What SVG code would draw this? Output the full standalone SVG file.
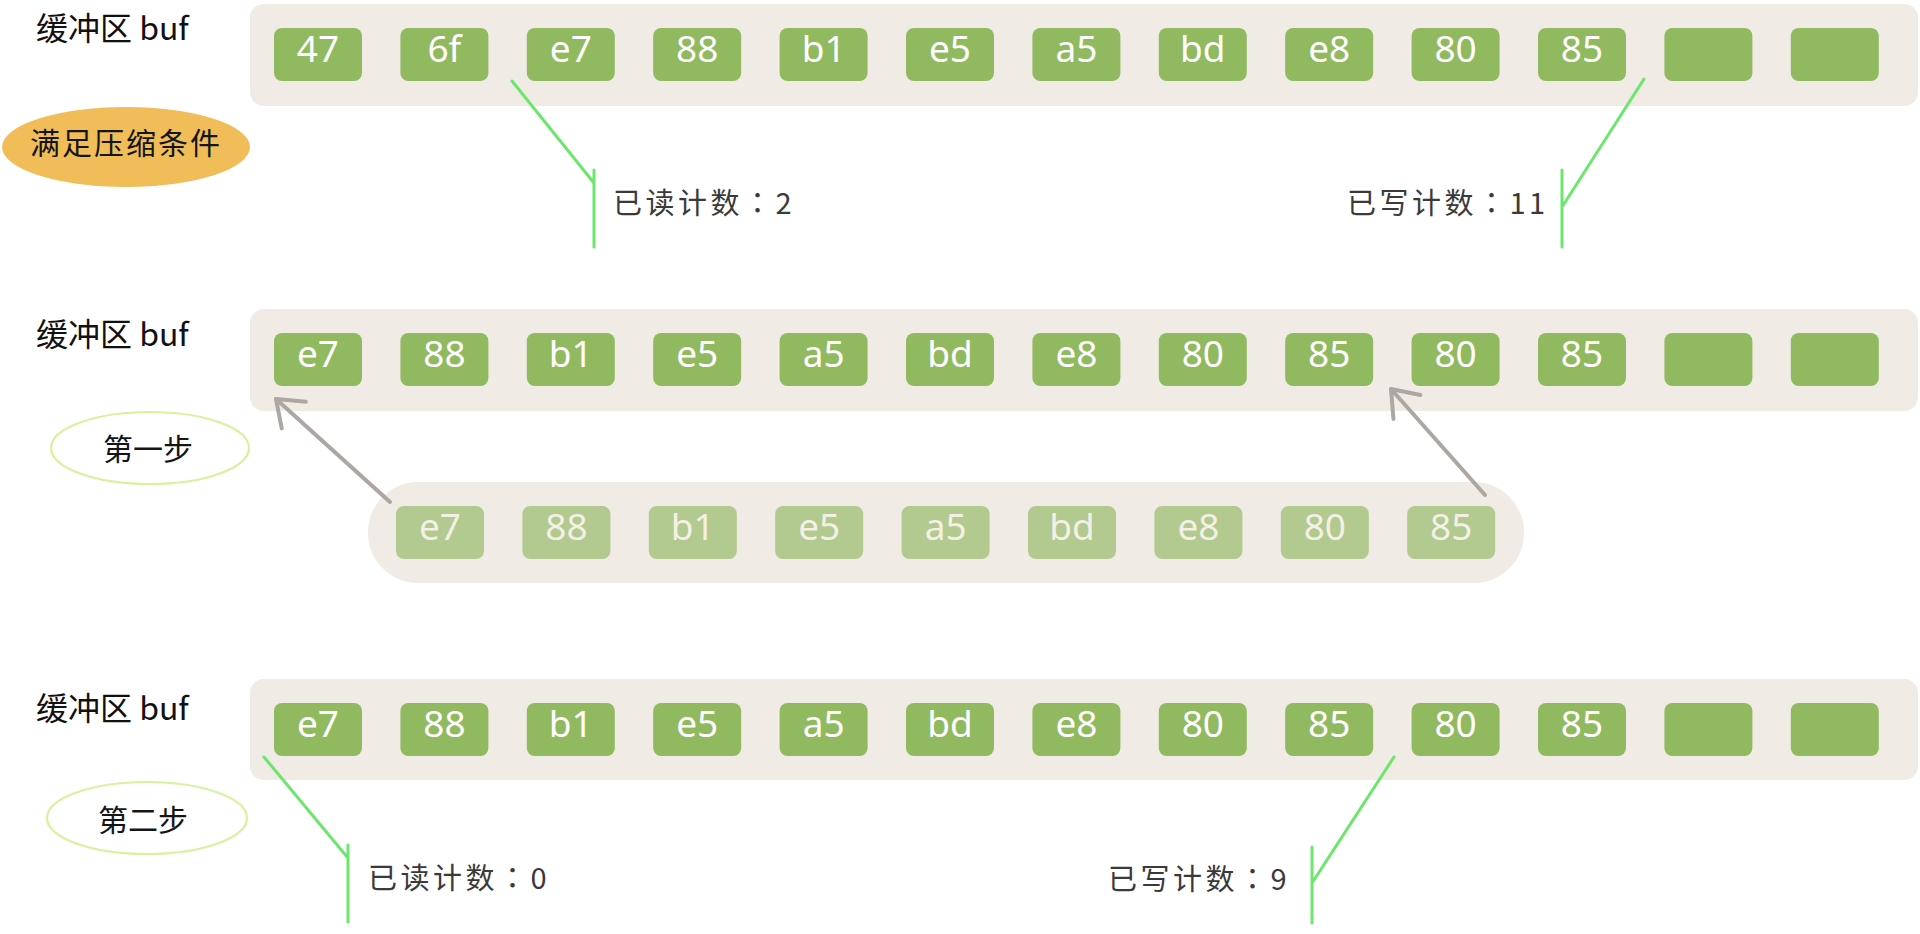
<svg xmlns="http://www.w3.org/2000/svg" width="1920" height="934" viewBox="0 0 1920 934">
<style>
.bar{fill:#f0ebe5}
.cell{fill:#91b960}
.fcell{fill:#b2c98f}
.ct{font-family:"Noto Sans","Liberation Sans",sans-serif;font-size:37px;fill:#ffffff;text-anchor:middle}
.fct{font-family:"Noto Sans","Liberation Sans",sans-serif;font-size:37px;fill:#f4f0e6;text-anchor:middle}
.title{font-family:"Noto Sans CJK SC","Noto Sans",sans-serif;font-size:32px;fill:#111111}
.lbl{font-family:"Noto Sans CJK TC","Noto Sans CJK SC",sans-serif;font-size:29px;letter-spacing:3.5px;fill:#3a3a3a}
.step{font-family:"Noto Sans CJK SC","Noto Sans",sans-serif;font-size:30px;fill:#151515;text-anchor:middle}
.ptr{fill:none;stroke:#6ce66c;stroke-width:3;stroke-linecap:round}
.arrow{fill:none;stroke:#aca7a2;stroke-width:4;stroke-linecap:round;stroke-linejoin:round}
.stepring{fill:none;stroke:#d6f29c;stroke-width:2.2}
</style>
<defs>
<marker id="ah" markerUnits="userSpaceOnUse" viewBox="-30 -24 36 48" markerWidth="36" markerHeight="48" refX="0" refY="0" orient="auto" overflow="visible">
<path d="M-24,-18 L0,0 L-24,18" fill="none" stroke="#aca7a2" stroke-width="4" stroke-linecap="round" stroke-linejoin="round"/>
</marker>
</defs>
<rect width="1920" height="934" fill="#ffffff"/>

<!-- Row 1 -->
<g id="row1-title"><text class="title" x="36" y="40">缓冲区 buf</text></g>
<g id="row1-buf">
<rect class="bar" x="250" y="4" width="1668" height="102" rx="14"/>
<g id="r1c0"><rect class="cell" x="274" y="28" width="88" height="53" rx="8"/><text class="ct" x="318" y="62">47</text></g>
<g id="r1c1"><rect class="cell" x="400.4" y="28" width="88" height="53" rx="8"/><text class="ct" x="444.4" y="62">6f</text></g>
<g id="r1c2"><rect class="cell" x="526.8" y="28" width="88" height="53" rx="8"/><text class="ct" x="570.8" y="62">e7</text></g>
<g id="r1c3"><rect class="cell" x="653.2" y="28" width="88" height="53" rx="8"/><text class="ct" x="697.2" y="62">88</text></g>
<g id="r1c4"><rect class="cell" x="779.6" y="28" width="88" height="53" rx="8"/><text class="ct" x="823.6" y="62">b1</text></g>
<g id="r1c5"><rect class="cell" x="906" y="28" width="88" height="53" rx="8"/><text class="ct" x="950" y="62">e5</text></g>
<g id="r1c6"><rect class="cell" x="1032.4" y="28" width="88" height="53" rx="8"/><text class="ct" x="1076.4" y="62">a5</text></g>
<g id="r1c7"><rect class="cell" x="1158.8" y="28" width="88" height="53" rx="8"/><text class="ct" x="1202.8" y="62">bd</text></g>
<g id="r1c8"><rect class="cell" x="1285.2" y="28" width="88" height="53" rx="8"/><text class="ct" x="1329.2" y="62">e8</text></g>
<g id="r1c9"><rect class="cell" x="1411.6" y="28" width="88" height="53" rx="8"/><text class="ct" x="1455.6" y="62">80</text></g>
<g id="r1c10"><rect class="cell" x="1538" y="28" width="88" height="53" rx="8"/><text class="ct" x="1582" y="62">85</text></g>
<g id="r1c11"><rect class="cell" x="1664.4" y="28" width="88" height="53" rx="8"/></g>
<g id="r1c12"><rect class="cell" x="1790.8" y="28" width="88" height="53" rx="8"/></g>
</g>
<g id="cond"><ellipse cx="126" cy="147" rx="124" ry="40" fill="#f0bd58"/><text class="step" x="126" y="154" font-size="31" fill="#333333" letter-spacing="2">满足压缩条件</text></g>
<g id="r1-read"><text class="lbl" x="613" y="214">已读计数：2</text></g>
<g id="r1-write"><text class="lbl" x="1347" y="214">已写计数：11</text></g>

<!-- Row 2 -->
<g id="row2-title"><text class="title" x="36" y="346">缓冲区 buf</text></g>
<g id="row2-buf">
<rect class="bar" x="250" y="309" width="1668" height="102" rx="14"/>
<g id="r2c0"><rect class="cell" x="274" y="333" width="88" height="53" rx="8"/><text class="ct" x="318" y="367">e7</text></g>
<g id="r2c1"><rect class="cell" x="400.4" y="333" width="88" height="53" rx="8"/><text class="ct" x="444.4" y="367">88</text></g>
<g id="r2c2"><rect class="cell" x="526.8" y="333" width="88" height="53" rx="8"/><text class="ct" x="570.8" y="367">b1</text></g>
<g id="r2c3"><rect class="cell" x="653.2" y="333" width="88" height="53" rx="8"/><text class="ct" x="697.2" y="367">e5</text></g>
<g id="r2c4"><rect class="cell" x="779.6" y="333" width="88" height="53" rx="8"/><text class="ct" x="823.6" y="367">a5</text></g>
<g id="r2c5"><rect class="cell" x="906" y="333" width="88" height="53" rx="8"/><text class="ct" x="950" y="367">bd</text></g>
<g id="r2c6"><rect class="cell" x="1032.4" y="333" width="88" height="53" rx="8"/><text class="ct" x="1076.4" y="367">e8</text></g>
<g id="r2c7"><rect class="cell" x="1158.8" y="333" width="88" height="53" rx="8"/><text class="ct" x="1202.8" y="367">80</text></g>
<g id="r2c8"><rect class="cell" x="1285.2" y="333" width="88" height="53" rx="8"/><text class="ct" x="1329.2" y="367">85</text></g>
<g id="r2c9"><rect class="cell" x="1411.6" y="333" width="88" height="53" rx="8"/><text class="ct" x="1455.6" y="367">80</text></g>
<g id="r2c10"><rect class="cell" x="1538" y="333" width="88" height="53" rx="8"/><text class="ct" x="1582" y="367">85</text></g>
<g id="r2c11"><rect class="cell" x="1664.4" y="333" width="88" height="53" rx="8"/></g>
<g id="r2c12"><rect class="cell" x="1790.8" y="333" width="88" height="53" rx="8"/></g>
</g>
<g id="step1"><ellipse class="stepring" cx="150" cy="448" rx="99" ry="36"/><text class="step" x="148" y="460">第一步</text></g>

<g id="moved">
<rect class="bar" x="368" y="482" width="1156" height="101" rx="50"/>
<g id="m0"><rect class="fcell" x="396" y="506" width="88" height="53" rx="8"/><text class="fct" x="440" y="540">e7</text></g>
<g id="m1"><rect class="fcell" x="522.4" y="506" width="88" height="53" rx="8"/><text class="fct" x="566.4" y="540">88</text></g>
<g id="m2"><rect class="fcell" x="648.8" y="506" width="88" height="53" rx="8"/><text class="fct" x="692.8" y="540">b1</text></g>
<g id="m3"><rect class="fcell" x="775.2" y="506" width="88" height="53" rx="8"/><text class="fct" x="819.2" y="540">e5</text></g>
<g id="m4"><rect class="fcell" x="901.6" y="506" width="88" height="53" rx="8"/><text class="fct" x="945.6" y="540">a5</text></g>
<g id="m5"><rect class="fcell" x="1028" y="506" width="88" height="53" rx="8"/><text class="fct" x="1072" y="540">bd</text></g>
<g id="m6"><rect class="fcell" x="1154.4" y="506" width="88" height="53" rx="8"/><text class="fct" x="1198.4" y="540">e8</text></g>
<g id="m7"><rect class="fcell" x="1280.8" y="506" width="88" height="53" rx="8"/><text class="fct" x="1324.8" y="540">80</text></g>
<g id="m8"><rect class="fcell" x="1407.2" y="506" width="88" height="53" rx="8"/><text class="fct" x="1451.2" y="540">85</text></g>
</g>

<!-- Row 3 -->
<g id="row3-title"><text class="title" x="36" y="720">缓冲区 buf</text></g>
<g id="row3-buf">
<rect class="bar" x="250" y="679" width="1668" height="101" rx="14"/>
<g id="r3c0"><rect class="cell" x="274" y="703" width="88" height="53" rx="8"/><text class="ct" x="318" y="737">e7</text></g>
<g id="r3c1"><rect class="cell" x="400.4" y="703" width="88" height="53" rx="8"/><text class="ct" x="444.4" y="737">88</text></g>
<g id="r3c2"><rect class="cell" x="526.8" y="703" width="88" height="53" rx="8"/><text class="ct" x="570.8" y="737">b1</text></g>
<g id="r3c3"><rect class="cell" x="653.2" y="703" width="88" height="53" rx="8"/><text class="ct" x="697.2" y="737">e5</text></g>
<g id="r3c4"><rect class="cell" x="779.6" y="703" width="88" height="53" rx="8"/><text class="ct" x="823.6" y="737">a5</text></g>
<g id="r3c5"><rect class="cell" x="906" y="703" width="88" height="53" rx="8"/><text class="ct" x="950" y="737">bd</text></g>
<g id="r3c6"><rect class="cell" x="1032.4" y="703" width="88" height="53" rx="8"/><text class="ct" x="1076.4" y="737">e8</text></g>
<g id="r3c7"><rect class="cell" x="1158.8" y="703" width="88" height="53" rx="8"/><text class="ct" x="1202.8" y="737">80</text></g>
<g id="r3c8"><rect class="cell" x="1285.2" y="703" width="88" height="53" rx="8"/><text class="ct" x="1329.2" y="737">85</text></g>
<g id="r3c9"><rect class="cell" x="1411.6" y="703" width="88" height="53" rx="8"/><text class="ct" x="1455.6" y="737">80</text></g>
<g id="r3c10"><rect class="cell" x="1538" y="703" width="88" height="53" rx="8"/><text class="ct" x="1582" y="737">85</text></g>
<g id="r3c11"><rect class="cell" x="1664.4" y="703" width="88" height="53" rx="8"/></g>
<g id="r3c12"><rect class="cell" x="1790.8" y="703" width="88" height="53" rx="8"/></g>
</g>
<g id="step2"><ellipse class="stepring" cx="147" cy="818" rx="100" ry="36"/><text class="step" x="143" y="831">第二步</text></g>
<g id="r3-read"><text class="lbl" x="368" y="889">已读计数：0</text></g>
<g id="r3-write"><text class="lbl" x="1108" y="890">已写计数：9</text></g>

<g id="connectors">
<path class="ptr" d="M512,81 L594,183 M594,170 V247"/>
<path class="ptr" d="M1644,79 L1562,207 M1562,170 V247"/>
<path class="ptr" d="M264,757 L348,858 M348,845 V922"/>
<path class="ptr" d="M1394,757 L1312,883 M1312,847 V923"/>
<path class="arrow" d="M390,502 L276,399" marker-end="url(#ah)"/>
<path class="arrow" d="M1485,495 L1391,389" marker-end="url(#ah)"/>
</g>
</svg>
